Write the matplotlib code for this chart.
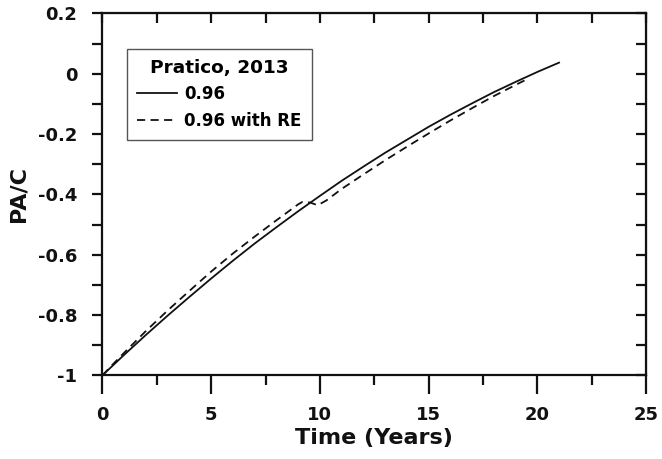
import matplotlib
matplotlib.use("Agg")
import matplotlib.pyplot as plt
from matplotlib.ticker import FixedLocator, FixedFormatter, MultipleLocator

plt.rcParams['font.family'] = ['DejaVu Sans']
plt.rcParams['font.weight'] = 'bold'

# Data
t_solid = [0, 1, 2, 3, 4, 5, 6, 7, 8, 9, 10, 11, 12, 13, 14, 15, 16, 17, 18, 19, 20, 21]
pac_solid = [-1.000, -0.932, -0.866, -0.802, -0.740, -0.679, -0.620, -0.563, -0.509,
             -0.456, -0.405, -0.355, -0.308, -0.262, -0.219, -0.176, -0.136, -0.098,
             -0.061, -0.027, 0.006, 0.037]

t_re = [0, 0.5, 1, 2, 3, 4, 5, 6, 7, 8, 9, 9.2, 9.55, 9.9, 10.3, 11, 12, 13, 14, 15,
        16, 17, 18, 19, 19.5]
pac_re = [-1.000, -0.962, -0.925, -0.853, -0.785, -0.720, -0.656, -0.596, -0.540,
          -0.486, -0.433, -0.425, -0.427, -0.436, -0.420, -0.382, -0.334, -0.287,
          -0.242, -0.198, -0.155, -0.114, -0.074, -0.037, -0.019]

x_ticks = [0, 5, 10, 15, 20, 25]
y_ticks = [0.2, 0, -0.2, -0.4, -0.6, -0.8, -1]
y_tick_labels = ["0.2", "0", "-0.2", "-0.4", "-0.6", "-0.8", "-1"]

legend_title = "Pratico, 2013"
label_solid = "0.96"
label_re = "0.96 with RE"

fig = plt.figure(figsize=(6.62, 4.59), dpi=100)
ax = fig.add_axes([0.1548, 0.1824, 0.9758 - 0.1548, 0.9706 - 0.1824])

ax.plot(t_solid, pac_solid, color='#111111', lw=1.3, label=label_solid)
ax.plot(t_re, pac_re, color='#111111', lw=1.3, dashes=(4.5, 3.0), label=label_re)

ax.set_xlim(0, 25)
ax.set_ylim(-1, 0.2)
ax.xaxis.set_major_locator(FixedLocator(x_ticks))
ax.xaxis.set_minor_locator(MultipleLocator(2.5))
ax.yaxis.set_major_locator(FixedLocator(y_ticks))
ax.yaxis.set_major_formatter(FixedFormatter(y_tick_labels))
ax.yaxis.set_minor_locator(MultipleLocator(0.1))

for s in ax.spines.values():
    s.set_linewidth(1.6)
    s.set_color('#111111')

ax.tick_params(axis='x', which='major', direction='out', length=14, width=1.6,
               labelsize=13, pad=8, colors='#111111')
ax.tick_params(axis='x', which='minor', direction='out', length=7, width=1.6,
               colors='#111111')
ax.tick_params(axis='y', which='both', direction='out', length=7, width=1.6,
               labelsize=13, pad=11, colors='#111111')
for lab in ax.get_xticklabels() + ax.get_yticklabels():
    lab.set_fontweight('bold')

# top and right ticks pointing inward
secx = ax.secondary_xaxis('top')
secx.xaxis.set_major_locator(FixedLocator(x_ticks))
secx.xaxis.set_minor_locator(MultipleLocator(2.5))
secx.tick_params(which='both', direction='in', length=7, width=1.6, labeltop=False,
                 colors='#111111')
secy = ax.secondary_yaxis('right')
secy.yaxis.set_major_locator(FixedLocator(y_ticks))
secy.yaxis.set_minor_locator(MultipleLocator(0.1))
secy.tick_params(which='both', direction='in', length=7, width=1.6, labelright=False,
                 colors='#111111')

ax.set_xlabel("Time (Years)", fontsize=16, fontweight='bold', labelpad=3,
              color='#111111')
ax.set_ylabel("PA/C", fontsize=16, fontweight='bold', labelpad=7, color='#111111')

leg = ax.legend(title=legend_title, loc='upper left', bbox_to_anchor=(0.0445, 0.902),
                frameon=True, fancybox=False, framealpha=1, edgecolor='#555555',
                prop={'weight': 'bold', 'size': 12},
                title_fontproperties={'weight': 'bold', 'size': 13.3},
                handlelength=2.45, handletextpad=0.4, borderpad=0.6,
                labelspacing=0.5, borderaxespad=0)
leg.get_frame().set_linewidth(1.0)

fig.savefig("out.png", dpi=100)
